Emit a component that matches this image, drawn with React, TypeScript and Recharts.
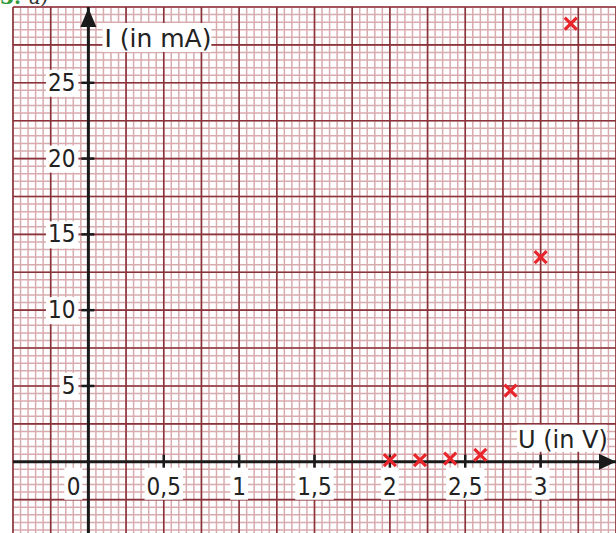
import { ScatterChart, Scatter, XAxis, YAxis, CartesianGrid, ReferenceLine } from 'recharts';

// measured points: U in volts, I in mA
const voltages = [2.0, 2.2, 2.4, 2.6, 2.8, 3.0, 3.2];
const currents = [0.1, 0.1, 0.2, 0.45, 4.7, 13.5, 28.9];

const xTicks = [0, 0.5, 1, 1.5, 2, 2.5, 3];
const xTickLabels = ['0', '0,5', '1', '1,5', '2', '2,5', '3'];
const yTicks = [5, 10, 15, 20, 25];
const yTickLabels = ['5', '10', '15', '20', '25'];

const X_DOMAIN: [number, number] = [-0.5, 3.5];
const Y_DOMAIN: [number, number] = [-4.7, 30];

const points = voltages.map((u, i) => ({ u, i: currents[i] }));
const xLabelData = xTicks.map((u, k) => ({ u, i: 0, label: xTickLabels[k] }));
const yLabelData = yTicks.map((i, k) => ({ u: 0, i, label: yTickLabels[k] }));
const axisEnds = [
  { u: X_DOMAIN[1], i: 0, label: 'U (in V)', dir: 'x' },
  { u: 0, i: Y_DOMAIN[1], label: 'I (in mA)', dir: 'y' },
];

// graph paper lines
const steps = (from: number, to: number, step: number) => {
  const out: number[] = [];
  for (let k = Math.ceil(from / step - 1e-9); k * step <= to + 1e-9; k++) out.push(+(k * step).toFixed(4));
  return out;
};
const minorX = steps(X_DOMAIN[0], X_DOMAIN[1], 0.05);
const majorX = steps(X_DOMAIN[0], X_DOMAIN[1], 0.25);
const minorY = steps(Y_DOMAIN[0], Y_DOMAIN[1], 0.5);
const majorY = steps(Y_DOMAIN[0], Y_DOMAIN[1], 2.5);

const NUM_FONT = '"DejaVu Sans Condensed", "DejaVu Sans", sans-serif';
const TITLE_FONT = '"DejaVu Sans", sans-serif';
const INK = '#1a1a1a';
const TXT = '#222';
const MINOR = '#d8abae';
const MAJOR = '#8a333a';

const textW = (s: string) => s.split('').reduce((a, c) => a + (c === ',' ? 7 : 13.7), 0);

const Cross = (props: any) => {
  const { cx, cy } = props;
  const r = 6;
  return (
    <g stroke="#e8252b" strokeWidth={3.2}>
      <line x1={cx - r} y1={cy - r} x2={cx + r} y2={cy + r} />
      <line x1={cx - r} y1={cy + r} x2={cx + r} y2={cy - r} />
    </g>
  );
};

const XLabel = (props: any) => {
  const { cx, cy, payload } = props;
  const s = payload.label;
  const w = textW(s) + 4;
  if (payload.u === 0) {
    return (
      <g>
        <rect x={cx - 24} y={cy + 6} width={18} height={32} fill="#fff" />
        <text x={cx - 8} y={cy + 25} textAnchor="end" dominantBaseline="central" fontFamily={NUM_FONT} fontSize={24} fill={TXT}>{s}</text>
      </g>
    );
  }
  return (
    <g>
      <line x1={cx} y1={cy - 7} x2={cx} y2={cy + 6} stroke={INK} strokeWidth={2.5} />
      <rect x={cx - w / 2} y={cy + 6} width={w} height={32} fill="#fff" />
      <text x={cx} y={cy + 25} textAnchor="middle" dominantBaseline="central" fontFamily={NUM_FONT} fontSize={24} fill={TXT}>{s}</text>
    </g>
  );
};

const YLabel = (props: any) => {
  const { cx, cy, payload } = props;
  const s = payload.label;
  const w = textW(s) + 5;
  return (
    <g>
      <rect x={cx - 10 - w} y={cy - 13} width={w} height={27} fill="#fff" />
      <line x1={cx - 7} y1={cy} x2={cx + 6} y2={cy} stroke={INK} strokeWidth={2.5} />
      <text x={cx - 13} y={cy} textAnchor="end" dominantBaseline="central" fontFamily={NUM_FONT} fontSize={24} fill={TXT}>{s}</text>
    </g>
  );
};

const AxisEnd = (props: any) => {
  const { cx, cy, payload } = props;
  if (payload.dir === 'x') {
    return (
      <g>
        <polygon points={`${cx},${cy} ${cx - 17},${cy - 8} ${cx - 17},${cy + 8}`} fill={INK} />
        <rect x={cx - 99} y={cy - 37} width={90} height={27} fill="#fff" />
        <text x={cx - 98} y={cy - 14} fontFamily={TITLE_FONT} fontSize={24} fill={TXT}>{payload.label}</text>
      </g>
    );
  }
  return (
    <g>
      <polygon points={`${cx},${cy + 1} ${cx - 8},${cy + 20} ${cx + 8},${cy + 20}`} fill={INK} />
      <rect x={cx + 14} y={cy + 16} width={109} height={29} fill="#fff" />
      <text x={cx + 16} y={cy + 40} fontFamily={TITLE_FONT} fontSize={25} fill={TXT}>{payload.label}</text>
    </g>
  );
};

export default function App() {
  return (
    <div style={{ position: 'absolute', left: 0, top: 0, width: 616, height: 533, overflow: 'hidden', background: '#fff' }}>
      <div style={{ position: 'absolute', left: 0, top: -15, fontFamily: '"DejaVu Serif", serif', fontSize: 20, whiteSpace: 'nowrap' }}>
        <span style={{ color: '#2e9a3a', fontWeight: 'bold' }}>3.</span>
        <span style={{ fontStyle: 'italic', marginLeft: 8, color: '#333' }}>a)</span>
      </div>
      <ScatterChart width={616} height={533} margin={{ top: 7, left: 13, right: 0, bottom: 0 }}>
        <XAxis type="number" dataKey="u" domain={X_DOMAIN} hide allowDataOverflow interval={0} />
        <YAxis type="number" dataKey="i" domain={Y_DOMAIN} hide width={0} allowDataOverflow interval={0} />

        <CartesianGrid verticalValues={minorX} horizontalValues={minorY} stroke={MINOR} strokeWidth={1.5} fill="#fff" />
        <CartesianGrid verticalValues={majorX} horizontalValues={majorY} stroke={MAJOR} strokeWidth={1.6} />

        <ReferenceLine x={0} stroke={INK} strokeWidth={3} />
        <ReferenceLine y={0} stroke={INK} strokeWidth={3} />

        <Scatter data={xLabelData} shape={<XLabel />} isAnimationActive={false} />
        <Scatter data={yLabelData} shape={<YLabel />} isAnimationActive={false} />
        <Scatter data={axisEnds} shape={<AxisEnd />} isAnimationActive={false} />
        <Scatter data={points} shape={<Cross />} isAnimationActive={false} />
      </ScatterChart>
    </div>
  );
}
